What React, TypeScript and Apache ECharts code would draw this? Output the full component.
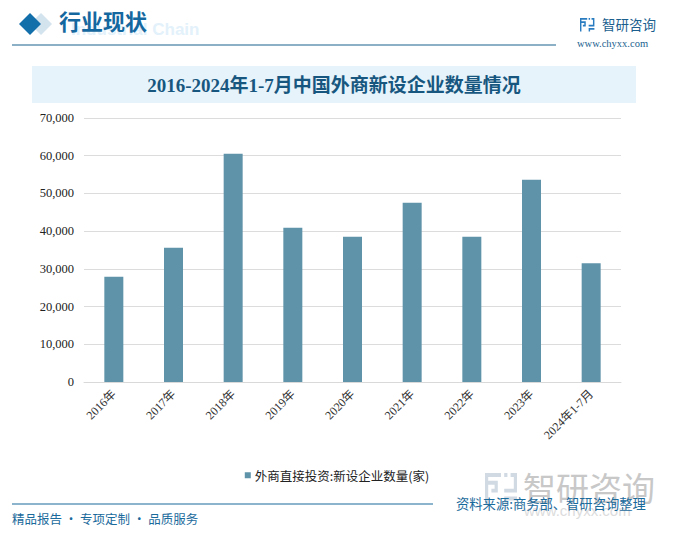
import React, { useEffect, useRef } from "react";
import * as echarts from "echarts";

const categories = ["2016年", "2017年", "2018年", "2019年", "2020年", "2021年", "2022年", "2023年", "2024年1-7月"];
const values = [27900, 35600, 60500, 40900, 38500, 47500, 38500, 53600, 31500];
const seriesName = "外商直接投资:新设企业数量(家)";
const chartTitle = "2016-2024年1-7月中国外商新设企业数量情况";
const sourceText = "资料来源:商务部、智研咨询整理";
const sloganText = "精品报告 · 专项定制 · 品质服务";

const SERIF = '"Liberation Serif", "Noto Sans CJK SC", serif';
const CJK = '"Noto Sans CJK SC", sans-serif';

echarts.graphic.registerShape(
  "logoMark",
  echarts.graphic.extendPath(
    "M0 0H20V4H4V8H16V20H8V16H12V12H4V32H0ZM24 0H28V4H24ZM32 0H40V4H32ZM36 4H40V20H24V16H36ZM24 24H40V28H28V32H24Z",
    {}
  )
);

export default function App() {
  const ref = useRef<HTMLDivElement>(null);
  useEffect(() => {
    const chart = echarts.init(ref.current!, undefined, { renderer: "svg" });
    chart.setOption({
      animation: false,
      backgroundColor: "#ffffff",
      grid: { left: 84, right: 53, top: 118, bottom: 155, containLabel: false },
      legend: {
        show: true,
        top: 464,
        left: "center",
        icon: "rect",
        itemWidth: 6,
        itemHeight: 6,
        itemGap: 4,
        textStyle: { fontFamily: CJK, fontSize: 12.5, color: "#222", padding: [0, 0, 0, -1] },
        data: [seriesName],
      },
      xAxis: {
        type: "category",
        data: categories,
        axisTick: { show: false },
        axisLine: { lineStyle: { color: "#d9d9d9" } },
        axisLabel: { rotate: 45, interval: 0, fontFamily: SERIF, fontSize: 12, color: "#333", margin: 10 },
      },
      yAxis: {
        type: "value",
        min: 0,
        max: 70000,
        interval: 10000,
        axisLine: { show: false },
        axisTick: { show: false },
        splitLine: { lineStyle: { color: "#dcdcdc" } },
        axisLabel: { fontFamily: SERIF, fontSize: 12.5, color: "#222", margin: 10 },
      },
      series: [
        {
          name: seriesName,
          type: "bar",
          data: values,
          barWidth: 19,
          itemStyle: { color: "#5f93aa" },
        },
      ],
      graphic: [
        { type: "polygon", silent: true, shape: { points: [[41, 13], [52, 24], [41, 35], [30, 24]] }, style: { fill: "#d3e4ee" } },
        { type: "polygon", silent: true, shape: { points: [[30, 13], [41, 24], [30, 35], [19, 24]] }, style: { fill: "#136fa9" } },
        { type: "text", x: 71, y: 21, style: { text: "Industrial Chain", fill: "#e3f1fb", font: 'bold 17px "Liberation Sans", sans-serif' } },
        { type: "text", x: 59, y: 11, style: { text: "行业现状", fill: "#14689f", font: `bold 22px ${SERIF}` } },
        { type: "line", shape: { x1: 12, y1: 45, x2: 556, y2: 45 }, style: { stroke: "#1b6490", lineWidth: 1.2 } },

        { type: "logoMark", x: 580, y: 18, scaleX: 0.36, scaleY: 0.42, style: { fill: "#2a7cc0" } },
        { type: "text", x: 602, y: 17, style: { text: "智研咨询", fill: "#1b5f8f", font: `13.5px ${CJK}` } },
        { type: "text", x: 577, y: 38, style: { text: "www.chyxx.com", fill: "#1b5f8f", font: `10.5px ${SERIF}` } },

        { type: "rect", shape: { x: 32, y: 66, width: 604, height: 37 }, style: { fill: "#e6f3fb" } },
        { type: "text", x: 334, y: 85, style: { text: chartTitle, fill: "#17577f", font: `bold 19px ${SERIF}`, align: "center", verticalAlign: "middle" } },

        { type: "logoMark", x: 485, y: 473, scaleX: 0.8, scaleY: 0.98, style: { fill: "#c9d3de", opacity: 0.85 } },
        { type: "text", x: 523, y: 470, style: { text: "智研咨询", fill: "#c8c8c8", font: `33px ${CJK}` } },
        { type: "text", x: 524, y: 503, style: { text: "www.chyxx.com", fill: "#dcdcdc", font: `15px "Liberation Sans", sans-serif` } },

        { type: "line", shape: { x1: 12, y1: 504, x2: 433, y2: 504 }, style: { stroke: "#1a6a9c", lineWidth: 1.2 } },
        { type: "text", x: 456, y: 497, style: { text: sourceText, fill: "#1a6a9c", font: `13.3px ${CJK}` } },
        { type: "text", x: 12, y: 512, style: { text: sloganText, fill: "#1a6a9c", font: `12.5px ${CJK}` } },
      ],
    });
    return () => chart.dispose();
  }, []);
  return <div ref={ref} style={{ position: "fixed", left: 0, top: 0, width: 674, height: 537 }} />;
}
